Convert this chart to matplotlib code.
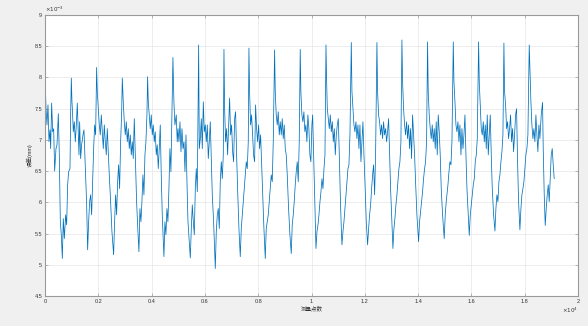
import numpy as np
import matplotlib
matplotlib.use('Agg')
import matplotlib.pyplot as plt

plt.rcParams['font.family'] = ['Liberation Sans', 'Noto Sans CJK SC', 'DejaVu Sans']
plt.rcParams['axes.unicode_minus'] = False

# ====== 数据 (误差, 单位 1e-3 mm) ======
seg00_x = [0, 37, 75, 112, 150, 187, 212, 250, 287, 325, 362, 412, 450, 500, 537, 575, 612, 650, 687, 725, 775, 812, 850, 887, 937, 962, 987]
seg00_y = [8.09, 7.50, 7.24, 7.56, 6.97, 7.16, 6.86, 7.59, 7.13, 7.18, 6.50, 6.86, 6.92, 7.42, 6.76, 5.69, 5.48, 5.10, 5.74, 5.42, 5.80, 5.64, 6.28, 6.49, 6.54, 7.40, 7.99]

seg01_x = [1012, 1037, 1062, 1100, 1137, 1175, 1212, 1237, 1275, 1300, 1337, 1375, 1425, 1462, 1487, 1525, 1562, 1600, 1637, 1675, 1712, 1750, 1787, 1825, 1862, 1900, 1937]
seg01_y = [7.61, 7.40, 7.13, 7.29, 6.97, 7.24, 7.59, 7.24, 6.76, 7.29, 6.70, 6.92, 7.08, 7.16, 6.86, 6.44, 5.98, 5.24, 5.69, 6.01, 6.12, 5.80, 6.33, 6.86, 7.24, 7.08, 8.16]

seg02_x = [1962, 2000, 2037, 2075, 2112, 2150, 2187, 2225, 2262, 2300, 2337, 2375, 2412, 2462, 2512, 2575, 2612, 2650, 2687, 2725, 2762, 2800, 2837, 2875, 2900]
seg02_y = [7.77, 7.50, 7.24, 7.08, 7.40, 7.13, 6.86, 7.24, 6.97, 6.76, 7.18, 6.81, 6.44, 6.01, 5.53, 5.16, 5.69, 6.12, 5.80, 6.33, 6.60, 6.22, 6.97, 7.40, 7.99]

seg03_x = [2937, 2975, 3012, 3050, 3087, 3125, 3162, 3200, 3237, 3275, 3312, 3350, 3387, 3437, 3487, 3525, 3562, 3600, 3637, 3675, 3712, 3750, 3787, 3825, 3850]
seg03_y = [7.61, 7.29, 7.08, 7.29, 6.97, 7.18, 6.86, 7.08, 6.76, 6.97, 6.70, 7.34, 6.76, 6.01, 5.53, 5.21, 5.90, 5.69, 6.01, 6.44, 6.12, 6.76, 6.97, 7.40, 8.01]

seg04_x = [3875, 3912, 3950, 3987, 4025, 4062, 4100, 4137, 4175, 4212, 4250, 4287, 4325, 4362, 4400, 4462, 4500, 4537, 4575, 4612, 4650, 4687, 4725, 4762, 4800]
seg04_y = [7.61, 7.40, 7.18, 7.40, 7.08, 7.24, 6.97, 7.13, 6.76, 6.92, 6.54, 6.86, 7.24, 6.44, 5.80, 5.13, 5.69, 5.48, 5.90, 5.69, 6.22, 6.86, 6.49, 7.40, 8.32]

seg05_x = [4837, 4875, 4925, 4962, 4990, 5027, 5065, 5102, 5140, 5177, 5215, 5252, 5290, 5327, 5365, 5415, 5452, 5490, 5527, 5565, 5602, 5640, 5677, 5715, 5765]
seg05_y = [7.61, 7.24, 7.40, 6.97, 7.18, 6.97, 7.29, 6.81, 7.18, 6.86, 6.97, 6.49, 7.08, 6.33, 5.69, 5.37, 5.11, 5.58, 5.96, 5.69, 5.48, 6.22, 6.54, 6.17, 8.52]

seg06_x = [5790, 5827, 5865, 5902, 5940, 5977, 6015, 6052, 6090, 6127, 6165, 6202, 6240, 6277, 6327, 6390, 6427, 6465, 6502, 6540, 6577, 6615, 6652, 6690, 6715]
seg06_y = [6.86, 7.02, 7.34, 6.86, 7.61, 7.13, 7.24, 6.97, 7.24, 6.70, 6.97, 7.29, 6.70, 6.12, 5.69, 4.94, 5.53, 5.80, 5.90, 5.58, 6.33, 6.65, 6.38, 6.76, 8.45]

seg07_x = [6740, 6777, 6815, 6852, 6890, 6927, 6965, 7002, 7040, 7077, 7115, 7152, 7190, 7227, 7277, 7327, 7365, 7402, 7440, 7477, 7515, 7552, 7590, 7627, 7652]
seg07_y = [7.50, 6.97, 7.18, 6.76, 7.24, 7.67, 7.08, 7.24, 6.81, 6.65, 7.34, 7.45, 6.76, 6.22, 5.58, 5.13, 5.58, 5.80, 6.01, 6.22, 6.44, 6.65, 6.54, 6.97, 8.47]

seg08_x = [7677, 7715, 7752, 7790, 7827, 7865, 7902, 7940, 7977, 8015, 8052, 8090, 8127, 8165, 8215, 8265, 8302, 8340, 8377, 8415, 8452, 8490, 8527, 8565, 8615]
seg08_y = [7.77, 7.24, 7.40, 7.08, 6.76, 6.65, 7.56, 7.18, 6.97, 7.24, 6.86, 7.08, 6.65, 6.22, 5.58, 5.10, 5.58, 5.69, 5.80, 6.01, 6.22, 6.44, 6.33, 6.97, 8.44]

seg09_x = [8640, 8677, 8715, 8752, 8790, 8827, 8865, 8902, 8940, 8977, 9015, 9052, 9090, 9140, 9190, 9240, 9277, 9315, 9352, 9390, 9427, 9465, 9502, 9540, 9577]
seg09_y = [7.77, 7.40, 7.24, 7.45, 7.08, 7.29, 7.08, 7.34, 7.02, 7.24, 6.86, 6.76, 6.44, 5.90, 5.48, 5.18, 5.64, 5.80, 6.01, 6.28, 6.49, 6.65, 6.33, 6.97, 8.45]

seg10_x = [9602, 9640, 9677, 9715, 9752, 9790, 9827, 9865, 9902, 9940, 9977, 10015, 10043, 10068, 10105, 10143, 10168, 10205, 10243, 10280, 10318, 10355, 10393, 10430, 10468, 10505, 10543]
seg10_y = [7.77, 7.40, 7.29, 7.45, 7.13, 7.24, 6.97, 7.40, 7.18, 6.76, 6.65, 7.24, 7.40, 6.97, 6.33, 5.69, 5.26, 5.53, 5.64, 5.80, 6.01, 6.17, 6.38, 6.22, 6.54, 6.76, 8.52]

seg11_x = [10568, 10593, 10630, 10668, 10705, 10743, 10780, 10818, 10855, 10893, 10930, 10968, 11005, 11043, 11080, 11118, 11143, 11180, 11218, 11255, 11293, 11330, 11368, 11405, 11443, 11493]
seg11_y = [7.93, 7.50, 7.34, 7.18, 7.40, 7.13, 7.29, 6.97, 7.18, 6.76, 7.08, 7.24, 7.34, 6.76, 6.12, 5.58, 5.32, 5.53, 5.69, 5.90, 6.12, 6.33, 6.54, 6.60, 7.08, 8.56]

seg12_x = [11518, 11555, 11593, 11630, 11668, 11705, 11743, 11780, 11818, 11855, 11893, 11930, 11968, 12005, 12055, 12105, 12143, 12180, 12218, 12255, 12293, 12330, 12368, 12405, 12455]
seg12_y = [7.77, 7.50, 7.24, 7.13, 7.29, 7.02, 7.24, 6.86, 7.24, 6.65, 6.97, 7.29, 6.76, 6.33, 5.69, 5.32, 5.58, 5.80, 5.96, 6.22, 6.44, 6.60, 6.12, 6.76, 8.56]

seg13_x = [12480, 12518, 12555, 12593, 12630, 12668, 12705, 12743, 12780, 12818, 12855, 12893, 12930, 12968, 13018, 13055, 13093, 13130, 13168, 13205, 13243, 13280, 13318, 13355, 13393]
seg13_y = [7.77, 7.40, 7.29, 7.08, 7.24, 7.02, 7.29, 7.08, 7.18, 6.97, 7.13, 7.34, 6.76, 6.22, 5.69, 5.26, 5.58, 5.74, 5.96, 6.12, 6.33, 6.54, 6.65, 6.97, 8.60]

seg14_x = [13418, 13455, 13493, 13530, 13568, 13605, 13643, 13680, 13718, 13755, 13793, 13830, 13868, 13905, 13955, 14018, 14055, 14093, 14130, 14168, 14205, 14243, 14280, 14318, 14355]
seg14_y = [7.93, 7.50, 7.24, 7.08, 7.29, 7.02, 7.24, 6.86, 7.18, 6.70, 7.40, 7.08, 6.76, 6.33, 5.80, 5.37, 5.69, 5.85, 6.01, 6.17, 6.38, 6.54, 6.65, 6.97, 8.57]

seg15_x = [14380, 14418, 14455, 14493, 14530, 14568, 14605, 14643, 14680, 14718, 14755, 14793, 14830, 14868, 14918, 14980, 15018, 15055, 15083, 15120, 15158, 15195, 15233, 15270, 15320]
seg15_y = [7.77, 7.40, 7.18, 7.02, 7.24, 6.97, 7.18, 6.86, 7.29, 6.76, 7.40, 7.13, 6.76, 6.22, 5.80, 5.42, 5.80, 6.01, 6.12, 6.28, 6.49, 6.65, 6.60, 6.97, 8.57]

seg16_x = [15345, 15383, 15420, 15458, 15495, 15533, 15570, 15608, 15645, 15683, 15720, 15758, 15795, 15833, 15883, 15920, 15958, 15995, 16033, 16070, 16108, 16145, 16183, 16220, 16270]
seg16_y = [7.93, 7.61, 7.24, 7.13, 7.29, 6.97, 7.24, 6.76, 7.18, 6.86, 7.08, 7.40, 6.76, 6.22, 5.80, 5.47, 5.80, 5.96, 6.12, 6.28, 6.38, 6.65, 6.76, 7.02, 8.57]

seg17_x = [16295, 16333, 16370, 16408, 16445, 16483, 16520, 16558, 16595, 16633, 16670, 16708, 16745, 16783, 16833, 16883, 16920, 16958, 16995, 17033, 17070, 17108, 17145, 17183, 17220]
seg17_y = [7.93, 7.56, 7.18, 7.08, 7.29, 6.97, 7.24, 6.86, 7.40, 6.76, 7.08, 7.40, 6.76, 6.22, 5.80, 5.54, 5.90, 6.12, 6.01, 6.33, 6.44, 6.65, 6.81, 7.08, 8.55]

seg18_x = [17245, 17283, 17320, 17358, 17395, 17433, 17470, 17508, 17545, 17583, 17620, 17658, 17695, 17733, 17770, 17820, 17858, 17895, 17933, 17970, 18008, 18045, 18083, 18120, 18170]
seg18_y = [7.77, 7.56, 7.18, 7.29, 7.02, 7.18, 7.40, 6.97, 7.18, 6.81, 7.08, 7.40, 7.50, 6.65, 6.01, 5.56, 5.90, 6.12, 6.22, 6.33, 6.54, 6.76, 6.86, 7.08, 8.52]

seg19_x = [18195, 18233, 18270, 18308, 18345, 18383, 18420, 18458, 18495, 18533, 18570, 18620, 18670, 18695, 18733, 18770, 18808, 18845, 18883, 18920, 18958, 18995, 19033, 19070, 19108]
seg19_y = [8.15, 7.61, 7.24, 7.02, 7.18, 6.97, 7.40, 7.08, 6.81, 7.24, 7.02, 7.40, 7.60, 6.86, 6.12, 5.63, 5.90, 6.12, 6.28, 6.01, 6.38, 6.76, 6.86, 6.60, 6.38]

xticks = [0, 2000, 4000, 6000, 8000, 10000, 12000, 14000, 16000, 18000, 20000]
xtick_labels = ['0', '0.2', '0.4', '0.6', '0.8', '1', '1.2', '1.4', '1.6', '1.8', '2']
yticks = [4.5e-3, 5e-3, 5.5e-3, 6e-3, 6.5e-3, 7e-3, 7.5e-3, 8e-3, 8.5e-3, 9e-3]
ytick_labels = ['4.5', '5', '5.5', '6', '6.5', '7', '7.5', '8', '8.5', '9']

all_x = []
all_y = []
for sx, sy in [(seg00_x, seg00_y), (seg01_x, seg01_y), (seg02_x, seg02_y), (seg03_x, seg03_y),
               (seg04_x, seg04_y), (seg05_x, seg05_y), (seg06_x, seg06_y), (seg07_x, seg07_y),
               (seg08_x, seg08_y), (seg09_x, seg09_y), (seg10_x, seg10_y), (seg11_x, seg11_y),
               (seg12_x, seg12_y), (seg13_x, seg13_y), (seg14_x, seg14_y), (seg15_x, seg15_y),
               (seg16_x, seg16_y), (seg17_x, seg17_y), (seg18_x, seg18_y), (seg19_x, seg19_y)]:
    all_x += sx
    all_y += sy
x = np.array(all_x)
y = np.array(all_y) * 1e-3

# ====== 绘图 ======
fig = plt.figure(figsize=(5.88, 3.26), dpi=100, facecolor='#f0f0f0')
ax = fig.add_axes([45 / 588, 30 / 326, 533 / 588, 281 / 326])
ax.set_facecolor('white')
ax.plot(x, y, color='#0072BD', lw=0.55)

ax.set_xlim(0, 20000)
ax.set_ylim(4.5e-3, 9e-3)
ax.set_xticks(xticks)
ax.set_xticklabels(xtick_labels)
ax.set_yticks(yticks)
ax.set_yticklabels(ytick_labels)
ax.grid(True, color='#e6e6e6', lw=0.5)
ax.set_axisbelow(True)
ax.tick_params(direction='in', length=2.5, width=0.5, labelsize=4, colors='#999999',
               labelcolor='#333333', top=True, right=True, pad=2)
for s in ax.spines.values():
    s.set_color('#9a9a9a')
    s.set_linewidth(0.8)

ax.text(0.0, 1.004, r'$\times10^{-3}$', transform=ax.transAxes, fontsize=4,
        ha='left', va='bottom', color='#333333')
ax.text(1.0, -0.035, r'$\times10^{4}$', transform=ax.transAxes, fontsize=4,
        ha='right', va='top', color='#333333')

ax.set_xlabel('测量点数', fontsize=4, color='#333333', labelpad=1.5)
ax.set_ylabel('误差(mm)', fontsize=4, color='#333333', labelpad=1)

plt.savefig('out.png', dpi=100, facecolor=fig.get_facecolor())
